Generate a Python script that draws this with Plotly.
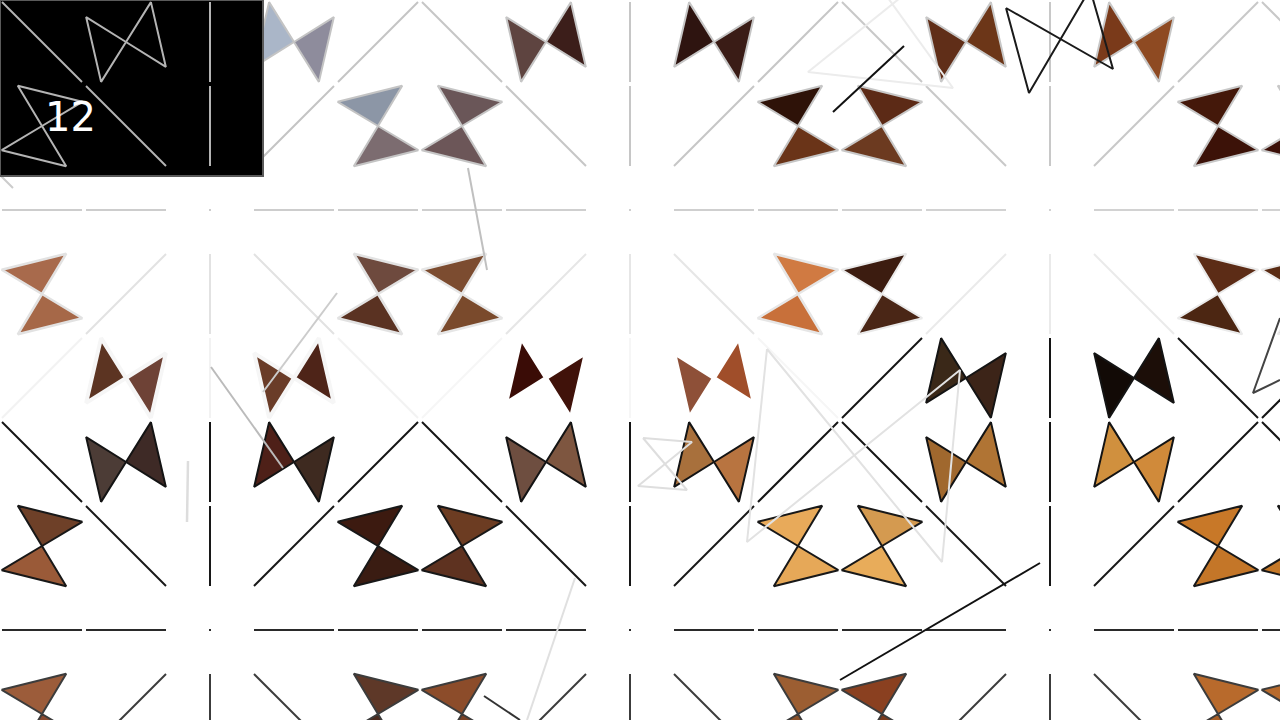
import numpy as np
import plotly.graph_objects as go

CELL = 84
HALF = 40      # half length of the grid strokes
RADIUS = 47    # distance from bowtie centre to each tip

BLOCK_X = [0, 420, 840, 1260]
BLOCK_Y = [0, 420]

# 5x5 motif that repeats every 420 px: (col, row, kind)
LINE_CELLS = [
    (0, 0, "\\"), (2, 0, "|"), (4, 0, "/"),
    (1, 1, "\\"), (2, 1, "|"), (3, 1, "/"),
    (0, 2, "-"), (1, 2, "-"), (2, 2, "."), (3, 2, "-"), (4, 2, "-"),
    (1, 3, "/"), (2, 3, "|"), (3, 3, "\\"),
    (0, 4, "/"), (2, 4, "|"), (4, 4, "\\"),
]
# bowtie cells: (col, row, angle of the first tip in degrees)
BOW_CELLS = [(1, 0, 122), (3, 0, 148), (0, 1, 239), (4, 1, 211),
             (0, 3, 211), (4, 3, 239), (1, 4, 148), (3, 4, 122)]

# fill of the two triangles of each bowtie, same order as BOW_CELLS
BOW_FILLS = {
    (0, 0): [None, ("#aab6c8", "#8e8c9c"), None, ("#8c96a6", "#7c6c70"),
             ("#a86a4c", "#a66848"), ("#6e4a3e", "#5a3222"),
             ("#5c3422", "#6e4236"), ("#6a3c28", "#4e2418")],
    (1, 0): [("#5e4440", "#3c1e1a"), ("#2e1410", "#3a1c16"),
             ("#6a5658", "#6c5658"), ("#2e1208", "#6a3418"),
             ("#7c4c30", "#7a4a2c"), ("#d07a42", "#c8703a"),
             ("#3a0c06", "#40120a"), ("#8e5038", "#a04e2a")],
    (2, 0): [("#602e18", "#6c3618"), ("#7a3a1a", "#8e4a22"),
             ("#5c2a16", "#6c3a20"), ("#44180a", "#3c1208"),
             ("#3c1c10", "#4a2616"), ("#5c2c16", "#4c2612"),
             ("#3a2818", "#3c2418"), ("#120a06", "#1c0e08")],
    (3, 0): [None, None, ("#3c1008", "#3c1008"), None,
             ("#5a2c14", "#4a2410"), None, None, None],
    (0, 1): [("#4c3c36", "#3e2a26"), ("#4e2018", "#3e2a20"),
             ("#6e4028", "#9a5a38"), ("#3c1a10", "#3a1c12"),
             ("#9c5c3a", "#8a4a30"), ("#5e3828", "#4a2a1e"), None, None],
    (1, 1): [("#6e4e40", "#7e5640"), ("#a8703c", "#b87440"),
             ("#6c3c22", "#5e3220"), ("#e8aa5a", "#e6a858"),
             ("#8c4c2a", "#7a4226"), ("#9c5e32", "#8a5028"), None, None],
    (2, 1): [("#a0682e", "#b07434"), ("#d0903e", "#d08a3a"),
             ("#d49a50", "#e8ac5a"), ("#c87828", "#c47628"),
             ("#8a4020", "#7a3a1c"), ("#b86a2c", "#a85e26"), None, None],
    (3, 1): [None, None, ("#c87a2c", "#c47828"), None,
             ("#b86a2c", "#a85e26"), None, None, None],
}

# stroke colour of every row of a block
GREY_ROWS = ["#c4c4c4", "#c4c4c4", "#cdcdcd", "#e2e2e2", "#f2f2f2"]
GREY_ROWS_B = ["#c6c6c6", "#c6c6c6", "#cfcfcf", "#e6e6e6", "#f6f6f6"]
GREY_DARK_ROWS = ["#c8c8c8", "#c8c8c8", "#d2d2d2", "#eaeaea", "#141414"]
DARK_ROWS = ["#141414", "#181818", "#2a2a2a", "#3c3c3c", "#444444"]
STROKES = {(0, 0): GREY_ROWS, (1, 0): GREY_ROWS_B, (2, 0): GREY_DARK_ROWS,
           (3, 0): GREY_DARK_ROWS, (0, 1): DARK_ROWS, (1, 1): DARK_ROWS,
           (2, 1): DARK_ROWS, (3, 1): DARK_ROWS}
# bowtie edges in the faint bottom rows are thick and almost white
EDGE_W = {(0, 0): [2, 2, 2, 2.5, 4], (1, 0): [2, 2, 2, 2.5, 4]}
EDGE_C = {(0, 0): "#f6f6f6", (1, 0): "#ffffff"}

# loose strokes lying over the pattern
OVERLAYS = [
    ("#cccccc", 2, [0, 13], [175, 188]),
    ("#c0c0c0", 2, [468, 487], [168, 270]),
    ("#bbbbbb", 2, [211, 283], [367, 468]),
    ("#cccccc", 2, [263, 337], [392, 293]),
    ("#dddddd", 2.5, [188, 187], [461, 522]),
    ("#e0e0e0", 2, [575, 527], [578, 720]),
    ("#333333", 2, [484, 520], [696, 720]),
    ("#dedede", 2, [643, 692, 638, 687, 643], [438, 442, 486, 490, 438]),
    ("#e2e2e2", 2, [767, 747, 960, 942, 767], [349, 542, 370, 562, 349]),
    ("#ececec", 2, [900, 808, 953, 888], [-2, 72, 88, -2]),
    ("#111111", 2, [833, 904], [112, 46]),
    ("#1a1a1a", 2, [1006, 1029, 1090, 1113, 1006], [8, 93, -11, 69, 8]),
    ("#111111", 2, [840, 1040], [680, 563]),
    ("#444444", 2, [1280, 1253, 1280], [318, 393, 380]),
]

BOX_X = [0, 263, 263, 0, 0]
BOX_Y = [0, 0, 176, 176, 0]
BOX_LABEL = "12"


def centre(bx, by, col, row):
    return bx + col * CELL + CELL / 2, by + row * CELL + CELL / 2


def segment(cx, cy, kind):
    if kind == "\\":
        return [cx - HALF, cx + HALF], [cy - HALF, cy + HALF]
    if kind == "/":
        return [cx - HALF, cx + HALF], [cy + HALF, cy - HALF]
    if kind == "|":
        return [cx, cx], [cy - HALF, cy + HALF]
    if kind == "-":
        return [cx - HALF, cx + HALF], [cy, cy]
    return [cx - 1, cx + 1], [cy, cy]


def bowtie(cx, cy, theta):
    tris = []
    for start in (theta, theta + 180):
        a1, a2 = np.radians(start), np.radians(start + 90)
        xs = [cx, cx + RADIUS * np.cos(a1), cx + RADIUS * np.cos(a2), cx]
        ys = [cy, cy + RADIUS * np.sin(a1), cy + RADIUS * np.sin(a2), cy]
        tris.append((xs, ys))
    return tris


fig = go.Figure()

# grid strokes, grouped by colour
groups = {}
for i, bx in enumerate(BLOCK_X):
    for j, by in enumerate(BLOCK_Y):
        rows = STROKES[(i, j)]
        for col, row, kind in LINE_CELLS:
            cx, cy = centre(bx, by, col, row)
            xs, ys = segment(cx, cy, kind)
            gx, gy = groups.setdefault(rows[row], ([], []))
            gx += xs + [None]
            gy += ys + [None]
for color, (gx, gy) in groups.items():
    fig.add_trace(go.Scatter(x=gx, y=gy, mode="lines",
                             line=dict(color=color, width=2),
                             hoverinfo="skip"))

# bowties
for i, bx in enumerate(BLOCK_X):
    for j, by in enumerate(BLOCK_Y):
        fills = BOW_FILLS[(i, j)]
        rows = STROKES[(i, j)]
        widths = EDGE_W.get((i, j), [2] * 5)
        for (col, row, theta), pair in zip(BOW_CELLS, fills):
            if pair is None:
                continue
            cx, cy = centre(bx, by, col, row)
            edge = rows[row]
            if widths[row] >= 4:
                edge = EDGE_C[(i, j)]
            for (xs, ys), fc in zip(bowtie(cx, cy, theta), pair):
                fig.add_trace(go.Scatter(
                    x=xs, y=ys, mode="lines", fill="toself",
                    fillcolor=fc, line=dict(color=edge, width=widths[row]),
                    hoverinfo="skip"))

for color, width, xs, ys in OVERLAYS:
    fig.add_trace(go.Scatter(x=xs, y=ys, mode="lines",
                             line=dict(color=color, width=width),
                             hoverinfo="skip"))

# black inset with the wireframe of the cells beneath it
fig.add_trace(go.Scatter(x=BOX_X, y=BOX_Y, mode="lines", fill="toself",
                         fillcolor="#000000",
                         line=dict(color="#5a5a5a", width=2),
                         hoverinfo="skip"))
wx, wy = [], []
for col, row, kind in LINE_CELLS:
    if col < 3 and row < 2:
        cx, cy = centre(0, 0, col, row)
        xs, ys = segment(cx, cy, kind)
        wx += xs + [None]
        wy += ys + [None]
for col, row, theta in BOW_CELLS:
    if col < 3 and row < 2:
        cx, cy = centre(0, 0, col, row)
        for xs, ys in bowtie(cx, cy, theta):
            wx += xs + [None]
            wy += ys + [None]
fig.add_trace(go.Scatter(x=wx, y=wy, mode="lines",
                         line=dict(color="#b4b4b4", width=2),
                         hoverinfo="skip"))

fig.add_annotation(x=70, y=117, text=BOX_LABEL, showarrow=False,
                   font=dict(family="DejaVu Sans", size=40, color="white"))

fig.update_layout(
    width=1280, height=720, autosize=False,
    margin=dict(l=0, r=0, t=0, b=0),
    paper_bgcolor="white", plot_bgcolor="white",
    showlegend=False,
    xaxis=dict(range=[0, 1280], visible=False, fixedrange=True),
    yaxis=dict(range=[720, 0], visible=False, fixedrange=True),
)

# the page's default body margin would push the figure 8 px off
fig.write_html("out.html", config={"displayModeBar": False},
               post_script="document.body.style.margin='0px';")
